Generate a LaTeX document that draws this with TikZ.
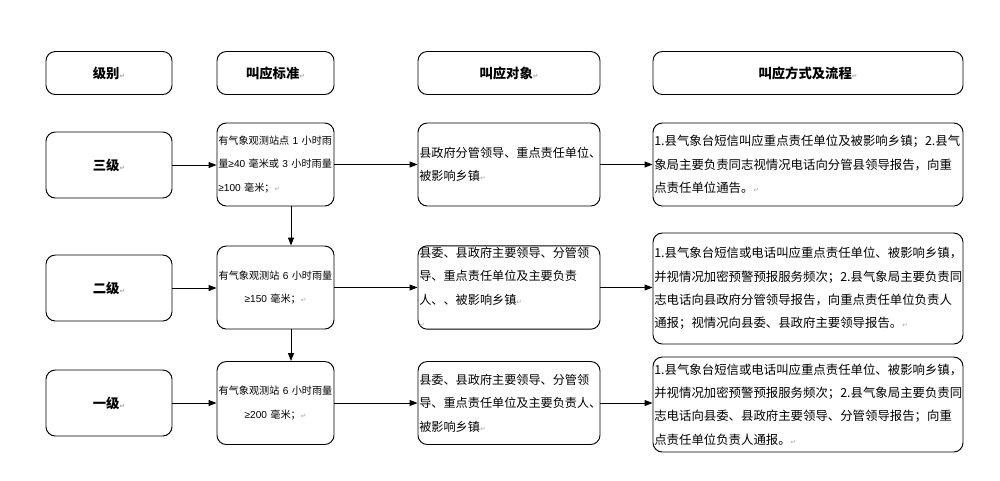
\documentclass[tikz,border=0pt]{standalone}
\usepackage{fontspec}
\setmainfont{Noto Sans CJK SC}
\newfontfamily\markfont{DejaVu Sans}
\newfontfamily\latinfont{Liberation Sans}
\usetikzlibrary{arrows.meta}
\newcommand\pmark{{\markfont\color{black!35}\fontsize{5}{5}\selectfont ↵}}
\newcommand\lat[1]{{\latinfont#1}}

\begin{document}
\begin{tikzpicture}[
            x=0.75pt, y=-0.75pt,
            box/.style = {shape=rectangle, rounded corners=7pt, draw, line width=0.7pt, inner sep=1pt},
            headbox/.style = {box, minimum height=32.25pt, font=\fontsize{10}{12}\bfseries\selectfont},
            levelbox/.style = {box, minimum width=94.5pt, minimum height=49.5pt, font=\fontsize{10}{12}\bfseries\selectfont},
            critbox/.style = {box, minimum width=87.75pt, text width=85.75pt, minimum height=62.25pt, font=\fontsize{7.6}{17.6}\selectfont},
            objbox/.style = {box, minimum width=136.5pt, text width=134.5pt, minimum height=62.25pt, align=left, font=\fontsize{9.1}{17.6}\selectfont},
            methbox/.style = {box, minimum width=232.5pt, text width=230.5pt, align=left, font=\fontsize{9.3}{17.6}\selectfont},
            link/.style = {-{Triangle[length=6pt,width=4.5pt]}, line width=0.7pt}
        ]
        \useasboundingbox (0,0) rectangle (1000,480);

        % header row
        \node[headbox, minimum width=94.5pt] (hlevel) at (109,73) {级别\pmark};
        \node[headbox, minimum width=87.75pt] (hcrit) at (275.5,73) {叫应标准\pmark};
        \node[headbox, minimum width=136.5pt] (hobj) at (509,73) {叫应对象\pmark};
        \node[headbox, minimum width=232.5pt] (hmeth) at (808,73) {叫应方式及流程\pmark};

        % level 3
        \node[levelbox] (lvl3) at (109,165) {三级\pmark};
        \node[critbox, align=left] (crit3) at (275.5,164.5) {有气象观测站点\lat{~1~}小时雨\\量\lat{≥40~}毫米或\lat{~3~}小时雨量\\\lat{≥100~}毫米；\pmark};
        \node[objbox] (obj3) at (509,164.5) {县政府分管领导、重点责任单位、\\被影响乡镇\pmark};
        \node[methbox, minimum height=62.25pt] (meth3) at (808,164.5) {1.县气象台短信叫应重点责任单位及被影响乡镇；2.县气\\象局主要负责同志视情况电话向分管县领导报告，向重\\点责任单位通告。\pmark};

        % level 2
        \node[levelbox] (lvl2) at (109,288) {二级\pmark};
        \node[critbox, align=center] (crit2) at (275.5,287.5) {有气象观测站\lat{~6~}小时雨量\\\lat{≥150~}毫米；\pmark};
        \node[objbox] (obj2) at (509,287.5) {县委、县政府主要领导、分管领\\导、重点责任单位及主要负责\\人、、被影响乡镇\pmark\\\pmark};
        \node[methbox, minimum height=83.25pt] (meth2) at (808,288.5) {1.县气象台短信或电话叫应重点责任单位、被影响乡镇，\\并视情况加密预警预报服务频次；2.县气象局主要负责同\\志电话向县政府分管领导报告，向重点责任单位负责人\\通报；视情况向县委、县政府主要领导报告。\pmark};

        % level 1
        \node[levelbox] (lvl1) at (109,403) {一级\pmark};
        \node[critbox, align=center] (crit1) at (275.5,403) {有气象观测站\lat{~6~}小时雨量\\\lat{≥200~}毫米；\pmark};
        \node[objbox] (obj1) at (509,403) {县委、县政府主要领导、分管领\\导、重点责任单位及主要负责人、\\被影响乡镇\pmark};
        \node[methbox, minimum height=71.25pt] (meth1) at (808,404.5) {1.县气象台短信或电话叫应重点责任单位、被影响乡镇，\\并视情况加密预警预报服务频次；2.县气象局主要负责同\\志电话向县委、县政府主要领导、分管领导报告；向重\\点责任单位负责人通报。\pmark};

        % connectors
        \coordinate (down) at (291,0);
        \foreach \n in {3,2,1} {
            \draw[link] (lvl\n.east) -- (lvl\n.east -| crit\n.west);
            \draw[link] (crit\n.east) -- (crit\n.east -| obj\n.west);
            \draw[link] (obj\n.east) -- (obj\n.east -| meth\n.west);
        }
        \draw[link] (crit3.south -| down) -- (crit2.north -| down);
        \draw[link] (crit2.south -| down) -- (crit1.north -| down);
    \end{tikzpicture}
\end{document}
